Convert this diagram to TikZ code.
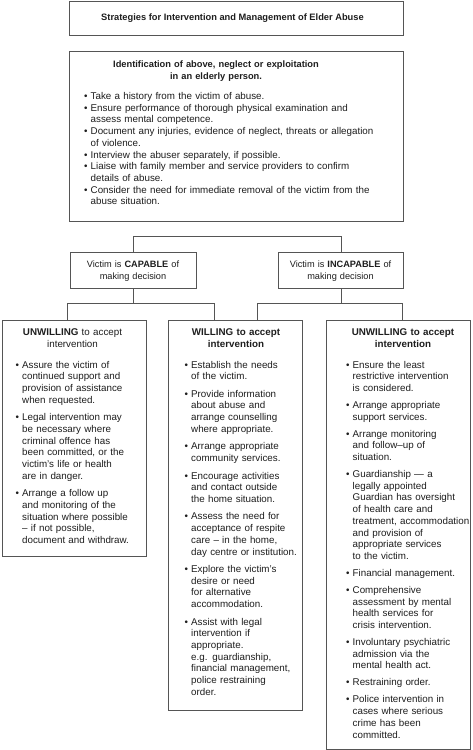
\documentclass[tikz,border=0pt]{standalone}
\usepackage{fontspec}
\setmainfont{Liberation Sans}
\definecolor{linec}{HTML}{555555}
\definecolor{textc}{HTML}{1e1e1e}
\newlength\bw \setlength\bw{6.5pt}
\newlength\ig \setlength\ig{5.8pt}
\newcommand\myitem[1]{{\let\\\newline\hangindent=\bw\hangafter=1\noindent\makebox[\bw][l]{\textbullet}#1\par}}
\begin{document}
\begin{tikzpicture}[x=1pt,y=-1pt,
  box/.style={draw=linec, line width=0.8pt, anchor=north west, inner sep=0pt},
  conn/.style={draw=linec, line width=0.8pt},
  body/.style={anchor=base west, inner sep=0pt, text width=160pt, text=textc, font=\fontsize{9.8}{11.7}\selectfont},
  head/.style={anchor=base, inner sep=0pt, text width=140pt, align=center, text=textc, font=\fontsize{9.8}{11.7}\selectfont},
  boldhead/.style={head, font=\fontsize{9.8}{11.7}\selectfont\bfseries}]
\useasboundingbox[fill=white] (0,0) rectangle (472,750);

% boxes
\node[box, minimum width=334pt, minimum height=34pt] (title) at (69,1) {};
\node[box, minimum width=334pt, minimum height=170pt] (ident) at (69,51) {};
\node[box, minimum width=126pt, minimum height=36pt] (cap) at (70,252) {};
\node[box, minimum width=125pt, minimum height=36pt] (incap) at (278,252) {};
\node[box, minimum width=144.5pt, minimum height=236pt] (u1) at (1.5,320) {};
\node[box, minimum width=134pt, minimum height=389.5pt] (w) at (168,320) {};
\node[box, minimum width=143.5pt, minimum height=429pt] (u2) at (326,320) {};

% connectors
\coordinate (ja) at (67,303);
\coordinate (jb) at (214,303);
\coordinate (jc) at (257,303);
\coordinate (jd) at (402,303);
\draw[conn] (cap.north) -- ++(0,-16) -| (incap.north);
\draw[conn] (cap.south) -- (cap.south |- ja);
\draw[conn] (ja |- u1.north) -- (ja) -- (jb) -- (jb |- w.north);
\draw[conn] (incap.south) -- (incap.south |- jc);
\draw[conn] (jc |- w.north) -- (jc) -- (jd) -- (jd |- u2.north);

% texts
\node[anchor=base, inner sep=0pt, text=textc, font=\fontsize{9.3}{11}\selectfont\bfseries] (titlet) at (232.5,20.5)
  {Strategies for Intervention and Management of Elder Abuse};

\node[head, text width=300pt, font=\fontsize{9.3}{12}\selectfont\bfseries] (identh) at (216,67.4)
  {Identification of above, neglect or exploitation\\ in an elderly person.};

\node[body, text width=340pt] (identb) at (84,99.5) {%
\myitem{Take a history from the victim of abuse.}%
\myitem{Ensure performance of thorough physical examination and\\ assess mental competence.}%
\myitem{Document any injuries, evidence of neglect, threats or allegation\\ of violence.}%
\myitem{Interview the abuser separately, if possible.}%
\myitem{Liaise with family member and service providers to confirm\\ details of abuse.}%
\myitem{Consider the need for immediate removal of the victim from the\\ abuse situation.}};

\node[head, font=\fontsize{9.2}{12}\selectfont] (capt) at (133,267.4)
  {Victim is \textbf{CAPABLE} of\\ making decision};
\node[head, font=\fontsize{9.2}{12}\selectfont] (incapt) at (340.5,267.4)
  {Victim is \textbf{INCAPABLE} of\\ making decision};

\node[head] (u1h) at (72.5,335.5) {\textbf{UNWILLING} to accept\\ intervention};
\node[boldhead] (wh) at (236,335.5) {WILLING to accept\\ intervention};
\node[boldhead] (u2h) at (403,335.5) {UNWILLING to accept\\ intervention};

\node[body] (u1b) at (15.5,368) {%
\myitem{Assure the victim of\\ continued support and\\ provision of assistance\\ when requested.}\vspace{\ig}%
\myitem{Legal intervention may\\ be necessary where\\ criminal offence has\\ been committed, or the\\ victim’s life or health\\ are in danger.}\vspace{\ig}%
\myitem{Arrange a follow up\\ and monitoring of the\\ situation where possible\\ – if not possible,\\ document and withdraw.}};

\node[body] (wb) at (184.5,368) {%
\myitem{Establish the needs\\ of the victim.}\vspace{\ig}%
\myitem{Provide information\\ about abuse and\\ arrange counselling\\ where appropriate.}\vspace{\ig}%
\myitem{Arrange appropriate\\ community services.}\vspace{\ig}%
\myitem{Encourage activities\\ and contact outside\\ the home situation.}\vspace{\ig}%
\myitem{Assess the need for\\ acceptance of respite\\ care – in the home,\\ day centre or institution.}\vspace{\ig}%
\myitem{Explore the victim’s\\ desire or need\\ for alternative\\ accommodation.}\vspace{\ig}%
\myitem{Assist with legal\\ intervention if\\ appropriate.\\ e.g. guardianship,\\ financial management,\\ police restraining\\ order.}};

\node[body] (u2b) at (346,368) {%
\myitem{Ensure the least\\ restrictive intervention\\ is considered.}\vspace{5.3pt}%
\myitem{Arrange appropriate\\ support services.}\vspace{5.3pt}%
\myitem{Arrange monitoring\\ and follow–up of\\ situation.}\vspace{5.3pt}%
\myitem{Guardianship — a\\ legally appointed\\ Guardian has oversight\\ of health care and\\ treatment, accommodation\\ and provision of\\ appropriate services\\ to the victim.}\vspace{5.3pt}%
\myitem{Financial management.}\vspace{5.3pt}%
\myitem{Comprehensive\\ assessment by mental\\ health services for\\ crisis intervention.}\vspace{5.3pt}%
\myitem{Involuntary psychiatric\\ admission via the\\ mental health act.}\vspace{5.3pt}%
\myitem{Restraining order.}\vspace{5.3pt}%
\myitem{Police intervention in\\ cases where serious\\ crime has been\\ committed.}};
\end{tikzpicture}
\end{document}
